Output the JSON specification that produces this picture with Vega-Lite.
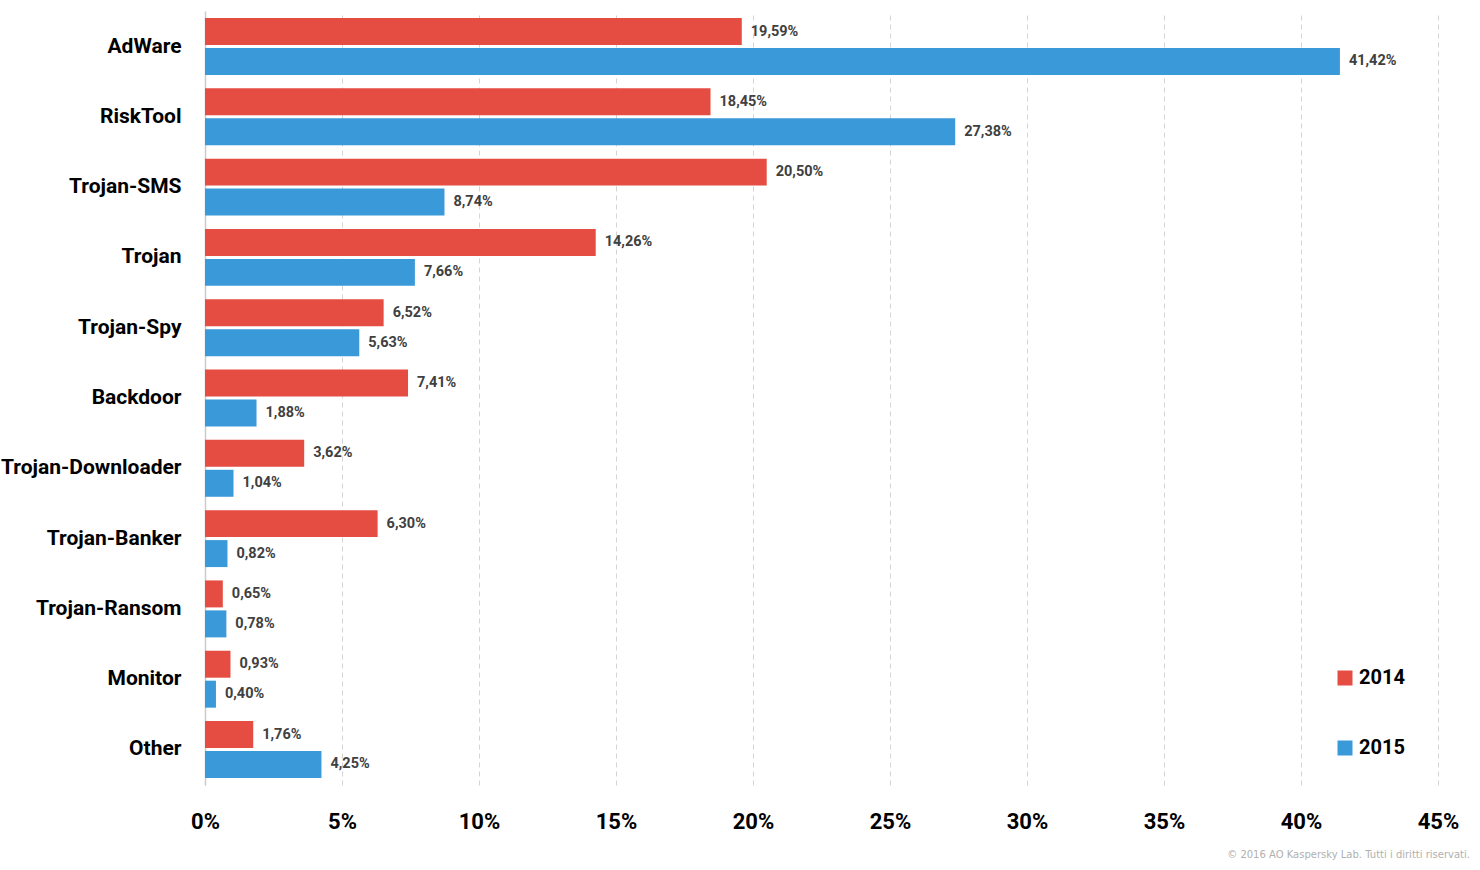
{
  "$schema": "https://vega.github.io/schema/vega-lite/v6.json",
  "autosize": {"type": "none"},
  "padding": {"left": 205, "top": 11, "right": 42, "bottom": 85},
  "width": 1233,
  "height": 774,
  "background": "white",
  "title": {
    "text": "© 2016 AO Kaspersky Lab. Tutti i diritti riservati.",
    "orient": "bottom",
    "anchor": "end",
    "frame": "group",
    "dx": 32,
    "offset": 18,
    "fontSize": 10,
    "fontWeight": "normal",
    "font": "DejaVu Sans",
    "color": "#b0b0b0"
  },
  "config": {
    "view": {"stroke": null},
    "locale": {
      "number": {"decimal": ",", "thousands": ".", "grouping": [3], "currency": ["", " €"]}
    },
    "font": "Roboto"
  },
  "data": {
    "values": [
      {"category": "AdWare", "year": "2014", "share": 0.1959},
      {"category": "AdWare", "year": "2015", "share": 0.4142},
      {"category": "RiskTool", "year": "2014", "share": 0.1845},
      {"category": "RiskTool", "year": "2015", "share": 0.2738},
      {"category": "Trojan-SMS", "year": "2014", "share": 0.2050},
      {"category": "Trojan-SMS", "year": "2015", "share": 0.0874},
      {"category": "Trojan", "year": "2014", "share": 0.1426},
      {"category": "Trojan", "year": "2015", "share": 0.0766},
      {"category": "Trojan-Spy", "year": "2014", "share": 0.0652},
      {"category": "Trojan-Spy", "year": "2015", "share": 0.0563},
      {"category": "Backdoor", "year": "2014", "share": 0.0741},
      {"category": "Backdoor", "year": "2015", "share": 0.0188},
      {"category": "Trojan-Downloader", "year": "2014", "share": 0.0362},
      {"category": "Trojan-Downloader", "year": "2015", "share": 0.0104},
      {"category": "Trojan-Banker", "year": "2014", "share": 0.0630},
      {"category": "Trojan-Banker", "year": "2015", "share": 0.0082},
      {"category": "Trojan-Ransom", "year": "2014", "share": 0.0065},
      {"category": "Trojan-Ransom", "year": "2015", "share": 0.0078},
      {"category": "Monitor", "year": "2014", "share": 0.0093},
      {"category": "Monitor", "year": "2015", "share": 0.0040},
      {"category": "Other", "year": "2014", "share": 0.0176},
      {"category": "Other", "year": "2015", "share": 0.0425}
    ]
  },
  "encoding": {
    "y": {
      "field": "category",
      "type": "nominal",
      "sort": null,
      "title": null,
      "scale": {"paddingInner": 0.19, "paddingOuter": 0.1},
      "axis": {
        "ticks": false,
        "domain": true,
        "domainColor": "#cccccc",
        "domainWidth": 1.5,
        "labelFontSize": 21,
        "labelFontWeight": "bold",
        "labelColor": "black",
        "labelPadding": 24,
        "labelLimit": 0
      }
    },
    "yOffset": {
      "field": "year",
      "type": "nominal",
      "scale": {"paddingInner": 0.1, "paddingOuter": 0}
    },
    "x": {
      "field": "share",
      "type": "quantitative",
      "title": null,
      "scale": {"domain": [0, 0.45], "nice": false},
      "axis": {
        "values": [0, 0.05, 0.1, 0.15, 0.2, 0.25, 0.3, 0.35, 0.4, 0.45],
        "format": ".0%",
        "ticks": false,
        "domain": false,
        "grid": true,
        "gridColor": "#d4d4d4",
        "gridDash": [5, 4],
        "labelFontSize": 22,
        "labelFontWeight": "bold",
        "labelColor": "black",
        "labelPadding": 26,
        "labelFlush": false
      }
    }
  },
  "layer": [
    {
      "mark": {"type": "bar"},
      "encoding": {
        "color": {
          "field": "year",
          "type": "nominal",
          "scale": {"domain": ["2014", "2015"], "range": ["#E54D42", "#3A99D9"]},
          "legend": {
            "title": null,
            "orient": "none",
            "legendX": 1130,
            "legendY": 657,
            "symbolType": "square",
            "symbolSize": 225,
            "symbolStrokeWidth": 0,
            "labelFontSize": 20,
            "labelFontWeight": "bold",
            "labelColor": "black",
            "labelOffset": 4,
            "rowPadding": 50
          }
        }
      }
    },
    {
      "mark": {
        "type": "text",
        "align": "left",
        "baseline": "middle",
        "dx": 9,
        "fontSize": 14.5,
        "fontWeight": "bold",
        "color": "#404040"
      },
      "encoding": {
        "text": {"field": "share", "type": "quantitative", "format": ".2%"}
      }
    }
  ]
}
